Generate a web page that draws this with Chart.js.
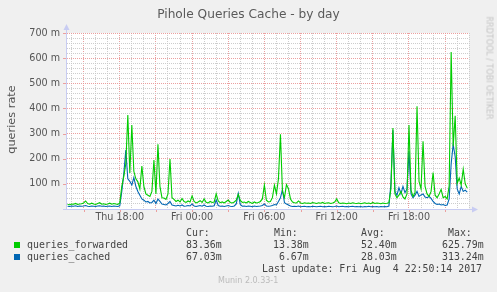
<!DOCTYPE html>
<html>
<head>
<meta charset="utf-8">
<script src="https://cdn.jsdelivr.net/npm/chart.js@4/dist/chart.umd.min.js"></script>
<style>
  html, body { margin: 0; padding: 0; background: #F0F0F0; }
  #wrap { position: relative; width: 497px; height: 292px; overflow: hidden; background: #F0F0F0; }
  canvas { position: absolute; left: 0; top: 0; }
  .t { position: absolute; white-space: pre; color: #555; }
  .mono { font-family: "DejaVu Sans Mono", monospace; font-size: 9.9px; line-height: 12px; color: #444; }
  .sq { position: absolute; width: 6px; height: 6px; }
</style>
</head>
<body>
<div id="wrap">
  <canvas id="c" width="497" height="292"></canvas>
  <div class="t" id="title" style="left:0;width:497px;top:7px;text-align:center;font-family:'DejaVu Sans';font-size:12.2px;color:#5a5a5a;">Pihole Queries Cache - by day</div>
  <div class="t" style="left:-29px;top:113px;width:80px;text-align:center;font-family:'DejaVu Sans';font-size:11.3px;color:#555;transform:rotate(-90deg);">queries rate</div>
  <div class="t" style="left:443px;top:58px;width:92px;text-align:center;font-family:'DejaVu Sans';font-size:8px;color:#c4c4c4;transform:rotate(90deg);">RRDTOOL / TOBI OETIKER</div>
  <div class="sq" style="left:14px;top:242px;background:#00CC00;"></div>
  <div class="sq" style="left:14px;top:254px;background:#0066B3;"></div>
  <div class="t mono" style="left:0;top:227px;" id="legend"></div>
  <div class="t" style="left:218px;top:276px;font-family:'DejaVu Sans';font-size:8px;color:#bbb;">Munin 2.0.33-1</div>
</div>
<script>
// ---- data (10-minute samples, Thu 13:40 .. Fri 22:50) ----
const startHour = 13 + 40 / 60;   // Thu 13:40, hours since Thu 00:00
const stepHours = 1 / 6;          // 10 minutes

const forwarded = [
  18,17,20,19,22,18,20,21,24,32,22,19,23,20,18,22,25,19,21,18,20,23,19,22,20,18,24,
  90,130,180,374,143,334,150,120,108,80,171,90,60,55,50,70,195,60,257,90,45,44,38,60,199,
  45,38,30,35,28,42,30,26,32,28,52,30,24,28,33,26,40,27,24,30,26,28,60,32,25,28,24,30,36,
  26,24,28,35,58,34,26,28,24,30,26,22,28,24,26,30,40,95,35,28,30,45,95,60,120,297,70,45,97,
  80,40,28,25,24,32,24,22,25,23,24,22,26,24,22,25,23,26,22,24,25,22,24,28,40,25,22,24,23,21,
  24,22,25,23,22,24,21,23,25,22,24,21,26,22,24,23,21,24,22,23,25,
  80,322,60,45,55,70,48,40,60,334,75,50,65,409,110,80,269,90,60,50,70,145,55,45,60,78,45,50,
  40,92,624,250,371,102,123,95,158,100,83
];
const cached = [
  11,10,12,11,13,10,12,11,12,14,11,10,12,11,10,12,13,11,12,10,11,12,10,12,11,10,13,
  70,140,234,120,110,95,125,90,70,55,40,35,28,30,24,26,35,22,40,30,20,18,16,22,30,
  16,14,12,15,12,16,11,12,14,12,20,12,10,12,14,11,16,11,10,12,11,13,36,14,11,12,10,12,14,
  11,10,12,20,62,18,11,12,10,12,11,9,12,10,11,12,14,20,12,11,12,14,18,16,30,45,77,25,20,
  16,12,10,11,10,12,9,10,11,9,10,9,11,10,9,10,11,9,10,9,11,10,9,10,12,9,10,11,9,10,
  9,10,11,9,10,9,10,8,10,9,11,9,10,9,10,8,10,9,10,9,12,
  100,313,70,55,85,60,90,65,80,230,60,45,55,70,50,56,60,48,45,50,42,30,22,18,20,16,18,14,
  16,40,180,257,208,80,60,90,70,75,67
];

const seriesNames = ['queries_forwarded', 'queries_cached'];
const seriesColors = ['#00CC00', '#0066B3'];
const curVals = ['83.36m', '67.03m'];
const minVals = ['13.38m', ' 6.67m'];
const avgVals = ['52.40m', '28.03m'];
const maxVals = ['625.79m', '313.24m'];
const lastUpdate = 'Last update: Fri Aug  4 22:50:14 2017';

const xLabelHours = [18, 24, 30, 36, 42];
const xLabelTexts = ['Thu 18:00', 'Fri 00:00', 'Fri 06:00', 'Fri 12:00', 'Fri 18:00'];
const yLabelValues = [100, 200, 300, 400, 500, 600, 700];
const yLabelTexts = ['100 m', '200 m', '300 m', '400 m', '500 m', '600 m', '700 m'];

// ---- legend text ----
let legendHtml =
  '<span style="position:absolute;left:186px;top:0">Cur:</span>' +
  '<span style="position:absolute;left:274px;top:0">Min:</span>' +
  '<span style="position:absolute;left:361px;top:0">Avg:</span>' +
  '<span style="position:absolute;left:448px;top:0">Max:</span>';
for (let s = 0; s < 2; s++) {
  const top = 12 + s * 12;
  legendHtml +=
    '<span style="position:absolute;left:27px;top:' + top + 'px">' + seriesNames[s] + '</span>' +
    '<span style="position:absolute;left:186px;top:' + top + 'px">' + curVals[s] + '</span>' +
    '<span style="position:absolute;left:273px;top:' + top + 'px">' + minVals[s] + '</span>' +
    '<span style="position:absolute;left:361px;top:' + top + 'px">' + avgVals[s] + '</span>' +
    '<span style="position:absolute;left:442px;top:' + top + 'px">' + maxVals[s] + '</span>';
}
legendHtml += '<span style="position:absolute;left:262px;top:36px">' + lastUpdate + '</span>';
document.getElementById('legend').innerHTML = legendHtml;

// ---- chart ----
const times = forwarded.map((_, i) => startHour + i * stepHours);
const ds = [forwarded, cached].map((vals, s) => ({
  label: seriesNames[s],
  data: vals.map((v, i) => ({ x: times[i], y: v })),
  borderColor: seriesColors[s],
  borderWidth: 1.1,
  pointRadius: 0,
  tension: 0,
  fill: false
}));

const hourTicks = [];
for (let h = 14; h <= 47; h++) hourTicks.push(h);
const yTicks = [];
for (let v = 0; v <= 700; v += 20) yTicks.push(v);

const L = 67, R = 469, T = 33, B = 209;
const MAJOR = 'rgba(234,150,150,0.9)';
const MINOR = 'rgba(200,200,200,0.9)';

const bgPlugin = {
  id: 'bg',
  beforeDraw(chart) {
    const { ctx, chartArea: a } = chart;
    ctx.save();
    ctx.fillStyle = '#FFFFFF';
    ctx.fillRect(a.left, a.top, a.right - a.left, a.bottom - a.top);
    ctx.restore();
  },
  afterDatasetsDraw(chart) {
    const { ctx, chartArea: a } = chart;
    const xs = chart.scales.x, ys = chart.scales.y;
    ctx.save();
    ctx.strokeStyle = '#C8CCF2';
    ctx.lineWidth = 1;
    ctx.beginPath();
    ctx.moveTo(a.left - 0.5, a.bottom + 0.5);
    ctx.lineTo(a.left - 0.5, a.top - 5);
    ctx.moveTo(a.left - 4, a.bottom + 0.5);
    ctx.lineTo(a.right + 5, a.bottom + 0.5);
    ctx.stroke();
    ctx.fillStyle = '#C8CCF2';
    ctx.beginPath();
    ctx.moveTo(a.left - 3.5, a.top - 3);
    ctx.lineTo(a.left + 2.5, a.top - 3);
    ctx.lineTo(a.left - 0.5, a.top - 9);
    ctx.closePath(); ctx.fill();
    ctx.beginPath();
    ctx.moveTo(a.right + 3, a.bottom - 2.5);
    ctx.lineTo(a.right + 3, a.bottom + 3.5);
    ctx.lineTo(a.right + 9, a.bottom + 0.5);
    ctx.closePath(); ctx.fill();
    ctx.strokeStyle = MAJOR;
    ctx.beginPath();
    hourTicks.forEach(h => {
      if (h % 3 === 0) {
        const x = Math.round(xs.getPixelForValue(h)) + 0.5;
        ctx.moveTo(x, a.bottom + 1); ctx.lineTo(x, a.bottom + 3);
      }
    });
    yLabelValues.forEach(v => {
      const y = Math.round(ys.getPixelForValue(v)) + 0.5;
      ctx.moveTo(a.left - 4, y); ctx.lineTo(a.left - 1, y);
    });
    ctx.stroke();
    ctx.restore();
  }
};

new Chart(document.getElementById('c'), {
  type: 'line',
  data: { datasets: ds },
  plugins: [bgPlugin],
  options: {
    responsive: false,
    animation: false,
    devicePixelRatio: 1,
    layout: { padding: { left: 0, right: 497 - R, top: T, bottom: 0 } },
    plugins: { legend: { display: false }, tooltip: { enabled: false }, title: { display: false } },
    scales: {
      x: {
        type: 'linear',
        min: 13.62, max: 46.98,
        afterFit(scale) { scale.height = 292 - B; },
        afterBuildTicks(scale) { scale.ticks = hourTicks.map(v => ({ value: v })); },
        border: { display: false, dash: [1, 1] },
        grid: {
          drawTicks: false,
          lineWidth: 1,
          color: ctx => (ctx.tick && ctx.tick.value % 3 === 0) ? MAJOR : MINOR
        },
        ticks: {
          autoSkip: false,
          maxRotation: 0,
          padding: 3,
          color: '#555',
          font: { family: 'DejaVu Sans', size: 9.6 },
          callback: v => { const k = xLabelHours.indexOf(v); return k >= 0 ? xLabelTexts[k] : ''; }
        }
      },
      y: {
        type: 'linear',
        min: 0, max: 700,
        afterFit(scale) { scale.width = L; },
        afterBuildTicks(scale) { scale.ticks = yTicks.map(v => ({ value: v })); },
        border: { display: false, dash: [1, 1] },
        grid: {
          drawTicks: false,
          lineWidth: 1,
          color: ctx => (ctx.tick && ctx.tick.value % 100 === 0) ? MAJOR : MINOR
        },
        ticks: {
          autoSkip: false,
          padding: 7,
          color: '#555',
          font: { family: 'DejaVu Sans', size: 9.6 },
          callback: v => { const k = yLabelValues.indexOf(v); return k >= 0 ? yLabelTexts[k] : ''; }
        }
      }
    }
  }
});
</script>
</body>
</html>
